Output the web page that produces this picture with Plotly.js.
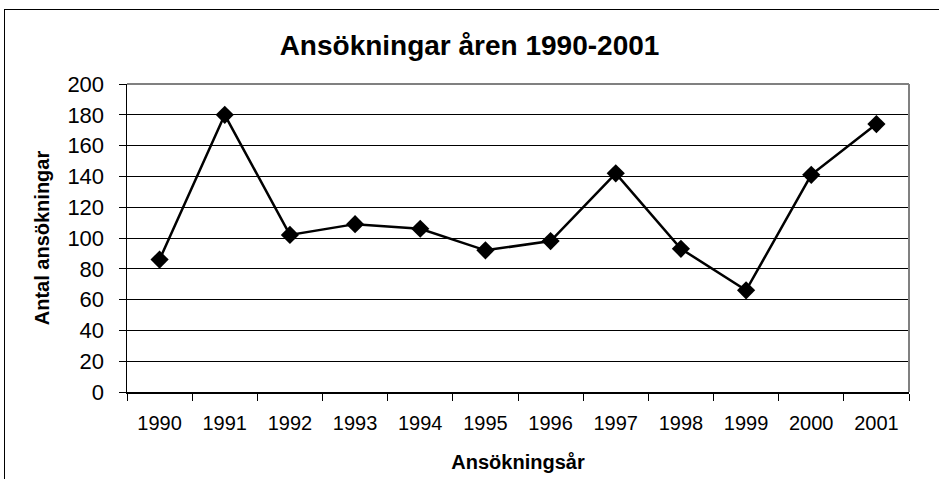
<!DOCTYPE html>
<html>
<head>
<meta charset="utf-8">
<script src="https://cdn.plot.ly/plotly-3.0.1.min.js"></script>
<style>
  html, body { margin: 0; padding: 0; background: #fff; overflow: hidden; }
  #chart { width: 939px; height: 479px; position: absolute; left: 0; top: 0; }
  #frame { position: absolute; left: 4px; top: 9px; width: 1000px; height: 600px; border: 1px solid #000; pointer-events: none; }
</style>
</head>
<body>
<div id="chart"></div>
<div id="frame"></div>
<script>
const years = ["1990","1991","1992","1993","1994","1995","1996","1997","1998","1999","2000","2001"];
const applications = [86, 180, 102, 109, 106, 92, 98, 142, 93, 66, 141, 174];
const yTicks = [0, 20, 40, 60, 80, 100, 120, 140, 160, 180, 200];

const font = "'Liberation Sans', Arial, sans-serif";

const trace = {
  type: "scatter",
  mode: "lines+markers",
  x: years,
  y: applications,
  line: { color: "#000", width: 2.5 },
  marker: { symbol: "diamond", size: 14, color: "#000" },
  hoverinfo: "x+y"
};

const layout = {
  width: 939, height: 479,
  margin: { l: 127, r: 30, t: 84, b: 87 },
  paper_bgcolor: "#fff",
  plot_bgcolor: "#fff",
  showlegend: false,
  font: { family: font, color: "#000" },
  title: {
    text: "<b>Ansökningar åren 1990-2001</b>",
    font: { family: font, size: 28, color: "#000" },
    x: 0.5, xref: "container", xanchor: "center",
    y: 1 - 45 / 479, yref: "container", yanchor: "middle"
  },
  xaxis: {
    type: "category",
    tickmode: "array",
    tickvals: years,
    ticktext: years,
    tickson: "boundaries",
    ticks: "outside", ticklen: 7, tickcolor: "#000", tickwidth: 1,
    ticklabelstandoff: 12,
    showline: true, linecolor: "#000", linewidth: 1.5,
    showgrid: false, zeroline: false,
    tickfont: { family: font, size: 20, color: "#000" },
    title: { text: "<b>Ansökningsår</b>", font: { family: font, size: 20, color: "#000" }, standoff: 22 },
    range: [-0.5, 11.5]
  },
  yaxis: {
    range: [0, 200],
    tickmode: "array",
    tickvals: yTicks,
    ticks: "outside", ticklen: 7, tickcolor: "#000", tickwidth: 1,
    ticklabelstandoff: 10,
    showline: true, linecolor: "#000", linewidth: 1.5,
    showgrid: true, gridcolor: "#000", gridwidth: 1,
    zeroline: false,
    tickfont: { family: font, size: 22, color: "#000" },
    title: { text: "<b>Antal ansökningar</b>", font: { family: font, size: 20, color: "#000" }, standoff: 12 }
  },
  shapes: [
    { type: "line", xref: "paper", yref: "paper", x0: 0, x1: 1, y0: 1, y1: 1, line: { color: "#808080", width: 2 } },
    { type: "line", xref: "paper", yref: "paper", x0: 1, x1: 1, y0: 0, y1: 1, line: { color: "#808080", width: 2 } }
  ]
};

Plotly.newPlot("chart", [trace], layout, { displayModeBar: false, staticPlot: true });
</script>
</body>
</html>
